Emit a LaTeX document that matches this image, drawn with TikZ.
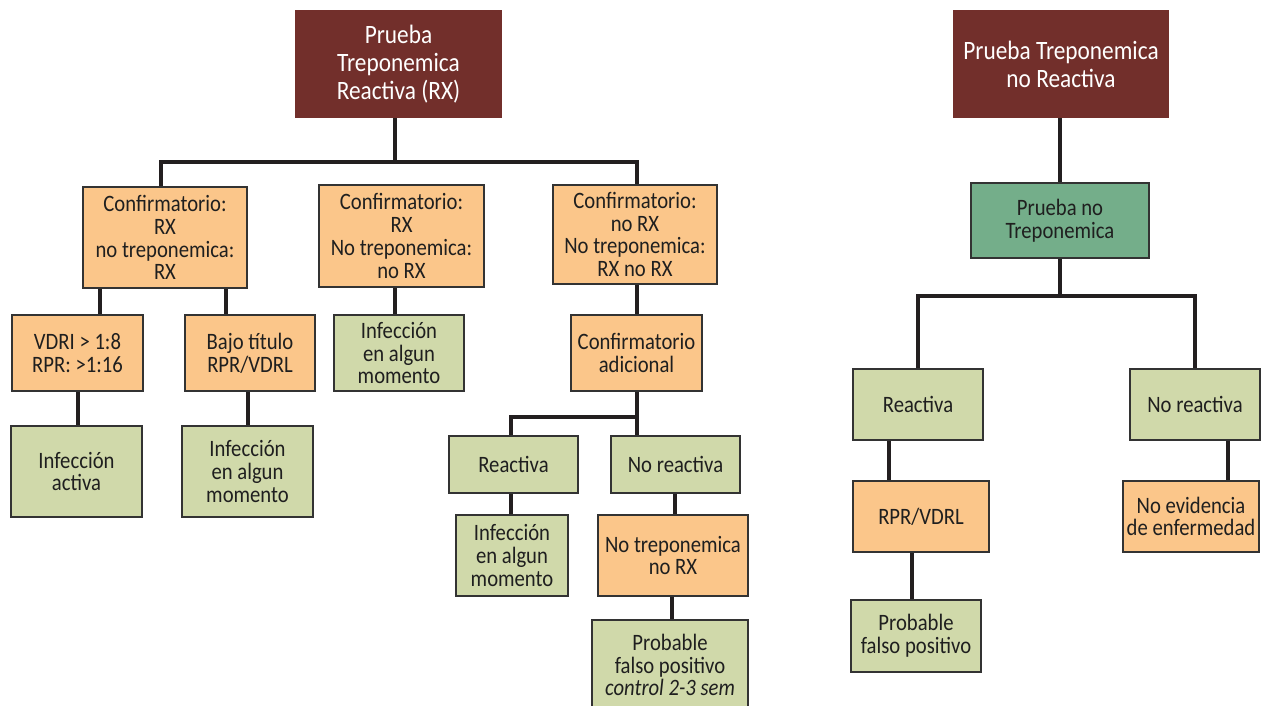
\documentclass[tikz,border=0pt]{standalone}
\usepackage{fontspec}
\setmainfont[FakeStretch=0.88]{Carlito}
\definecolor{rootc}{HTML}{722F2B}
\definecolor{orangec}{HTML}{FBC68A}
\definecolor{greenc}{HTML}{D0D9AA}
\definecolor{dgreenc}{HTML}{74AE8A}
\definecolor{bordc}{HTML}{333333}
\definecolor{linec}{HTML}{231F20}
\newcommand{\fsbox}{\fontsize{23.5}{22.8}\selectfont}
\newcommand{\fsroot}{\fontsize{26.5}{28}\selectfont}
\tikzset{
  box/.style={draw=bordc, line width=1.6pt, align=center, inner sep=1pt, font=\fsbox, text=black!88},
  org/.style={box, fill=orangec},
  grn/.style={box, fill=greenc},
  dgr/.style={box, fill=dgreenc},
  rootbox/.style={fill=rootc, text=white, align=center, inner sep=1pt, font=\fsroot},
  conn/.style={line width=3.2pt, draw=linec}
}
\begin{document}
\begin{tikzpicture}[x=1pt,y=-1pt]
\useasboundingbox (0,0) rectangle (1263,706);
\clip (0,0) rectangle (1263,706);
% left tree
\node[rootbox, minimum width=207, minimum height=108] (R1) at (398.5,64) {Prueba\\Treponemica\\Reactiva (RX)};
\node[org, minimum width=164, minimum height=101] (A) at (165,237.5) {Confirmatorio:\\RX\\no treponemica:\\RX};
\node[org, minimum width=165, minimum height=102] (B) at (401.5,236) {Confirmatorio:\\RX\\No treponemica:\\no RX};
\node[org, minimum width=164, minimum height=99] (C) at (635,234.5) {Confirmatorio:\\no RX\\No treponemica:\\RX no RX};
\node[org, minimum width=131, minimum height=76] (A1) at (77.5,353) {VDRI > 1:8\\RPR: >1:16};
\node[org, minimum width=130, minimum height=76] (A2) at (250,353) {Bajo título\\RPR/VDRL};
\node[grn, minimum width=131, minimum height=91] (A1a) at (76.5,471.5) {Infección\\activa};
\node[grn, minimum width=131, minimum height=91] (A2a) at (247.5,471.5) {Infección\\en algun\\momento};
\node[grn, minimum width=130, minimum height=76] (B1) at (399,353) {Infección\\en algun\\momento};
\node[org, minimum width=131, minimum height=76] (C1) at (636.5,353) {Confirmatorio\\adicional};
\node[grn, minimum width=129, minimum height=57] (C2) at (513.5,464.5) {Reactiva};
\node[grn, minimum width=129, minimum height=57] (C3) at (675.5,464.5) {No reactiva};
\node[grn, minimum width=112, minimum height=81] (C2a) at (512,555.5) {Infección\\en algun\\momento};
\node[org, minimum width=150, minimum height=81] (C3a) at (673,555.5) {No treponemica\\no RX};
\node[grn, minimum width=156, minimum height=90] (C3b) at (670,665) {Probable\\falso positivo\\\textit{control 2-3 sem}};
% right tree
\node[rootbox, minimum width=216, minimum height=108] (R2) at (1061,64) {Prueba Treponemica\\no Reactiva};
\node[dgr, minimum width=178, minimum height=75] (D) at (1060,220.5) {Prueba no\\Treponemica};
\node[grn, minimum width=130, minimum height=71] (D1) at (918,404.5) {Reactiva};
\node[grn, minimum width=130, minimum height=71] (D2) at (1195,404.5) {No reactiva};
\node[org, minimum width=136, minimum height=71] (D1a) at (921,516.5) {RPR/VDRL};
\node[org, minimum width=136, minimum height=71] (D2a) at (1191,516.5) {No evidencia\\de enfermedad};
\node[grn, minimum width=130, minimum height=72] (D1b) at (916,636) {Probable\\falso positivo};
% junction coordinates
\coordinate (bus1) at (395,162);
\coordinate (xA) at (161,0);
\coordinate (xC) at (637,0);
\coordinate (xA1) at (100,0);
\coordinate (xA2) at (226,0);
\coordinate (xA1a) at (78,0);
\coordinate (xA2a) at (248,0);
\coordinate (xB) at (395,0);
\coordinate (busC) at (637,417);
\coordinate (xC2) at (511,0);
\coordinate (xC3) at (675,0);
\coordinate (xC3b) at (672,0);
\coordinate (bus2) at (1060,296);
\coordinate (xD1a) at (889,0);
\coordinate (xD2a) at (1228,0);
\coordinate (xD1b) at (912,0);
% connectors
\draw[conn] (R1.south -| bus1) -- (bus1);
\draw[conn] (A.north -| xA) |- (bus1) -| (C.north -| xC);
\draw[conn] (A.south -| xA1) -- (A1.north -| xA1);
\draw[conn] (A.south -| xA2) -- (A2.north -| xA2);
\draw[conn] (A1.south -| xA1a) -- (A1a.north -| xA1a);
\draw[conn] (A2.south -| xA2a) -- (A2a.north -| xA2a);
\draw[conn] (B.south -| xB) -- (B1.north -| xB);
\draw[conn] (C.south -| xC) -- (C1.north -| xC);
\draw[conn] (C1.south -| xC) -- (C3.north -| xC);
\draw[conn] (busC) -| (C2.north -| xC2);
\draw[conn] (C2.south -| xC2) -- (C2a.north -| xC2);
\draw[conn] (C3.south -| xC3) -- (C3a.north -| xC3);
\draw[conn] (C3a.south -| xC3b) -- (C3b.north -| xC3b);
\draw[conn] (R2.south -| bus2) -- (D.north -| bus2);
\draw[conn] (D.south -| bus2) -- (bus2);
\draw[conn] (D1.north) |- (bus2) -| (D2.north);
\draw[conn] (D1.south -| xD1a) -- (D1a.north -| xD1a);
\draw[conn] (D2.south -| xD2a) -- (D2a.north -| xD2a);
\draw[conn] (D1a.south -| xD1b) -- (D1b.north -| xD1b);
\end{tikzpicture}
\end{document}
